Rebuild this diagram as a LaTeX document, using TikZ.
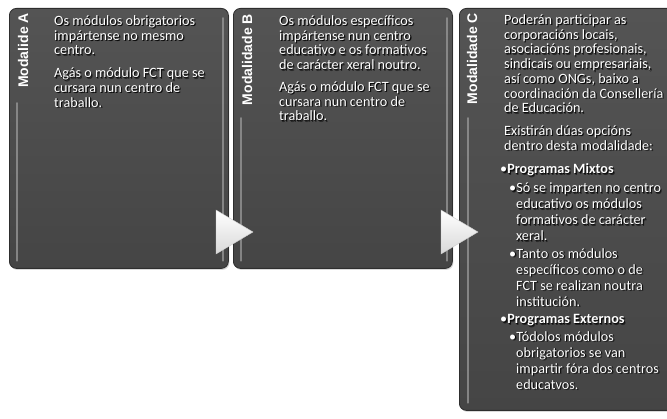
\documentclass[tikz,border=0pt]{standalone}
\usepackage{fontspec}
\setmainfont{Carlito}
\newfontfamily\tagfont{Liberation Sans}
\usetikzlibrary{shadows,calc}

\definecolor{panelTop}{HTML}{545454}
\definecolor{panelBot}{HTML}{454545}
\definecolor{panelEdge}{HTML}{2E2E2E}
\definecolor{shine}{HTML}{9A9A9A}

% body text with a soft dark shadow underneath
\newcommand{\shtext}[4][bodytext]{%
  \node[#1, text=black, text opacity=0.5, xshift=1.4pt, yshift=-1.4pt] (#2sf) at (#3) {#4};
  \node[#1, text=black, text opacity=0.8, xshift=0.8pt, yshift=-0.8pt] (#2sh) at (#3) {#4};
  \node[#1] (#2) at (#3) {#4};}

\begin{document}
\begin{tikzpicture}[x=1pt,y=-1pt,
  panel/.style={draw=panelEdge, line width=0.8pt, rounded corners=7pt,
    top color=panelTop, bottom color=panelBot, anchor=north west,
    minimum width=219pt, inner sep=0pt,
    drop shadow={opacity=0.3, shadow xshift=1pt, shadow yshift=-1.5pt}},
  tag/.style={font=\tagfont\bfseries\fontsize{14}{16}\selectfont,
    text=white, rotate=90, anchor=base east, inner sep=0pt},
  bodytext/.style={font=\fontsize{14.2}{14.7}\selectfont, text=white,
    align=left, anchor=north west, inner sep=0pt},
  listtext/.style={bodytext, font=\fontsize{14.2}{16}\selectfont},
  bevel/.style={draw=shine, line width=1.8pt, opacity=0.75, line cap=round},
  chevron/.style={top color=white, bottom color=gray!30, draw=gray!40, line width=0.4pt}]

\useasboundingbox (0,0) rectangle (667,419);
\clip (0,0) rectangle (667,419);

% the three panels
\node[panel, minimum height=260pt] (boxA) at (9,8) {};
\node[panel, minimum height=260pt] (boxB) at (233,8) {};
\node[panel, minimum width=226pt, minimum height=402pt] (boxC) at (459,8) {};

% bevel highlights on the panel edges
\draw[bevel] ($(boxA.north east)+(-6,10)$) -- ($(boxA.south east)+(-6,-8)$);
\draw[bevel] ($(boxB.north east)+(-6,10)$) -- ($(boxB.south east)+(-6,-8)$);
\draw[bevel] ($(boxA.north west)+(8,95)$) -- ($(boxA.south west)+(8,-8)$);
\draw[bevel] ($(boxB.north west)+(8,110)$) -- ($(boxB.south west)+(8,-8)$);
\draw[bevel] ($(boxC.north west)+(9,110)$) -- ($(boxC.south west)+(9,-8)$);

% rotated panel titles
\node[tag] (tagA) at ($(boxA.north west)+(19,5)$) {Modalide A};
\node[tag] (tagB) at ($(boxB.north west)+(19,6)$) {Modalidade B};
\node[tag] (tagC) at ($(boxC.north west)+(18,5)$) {Modalidade C};

% panel contents
\shtext{txtA}{$(boxA.north west)+(45,7.5)$}{Os módulos obrigatorios\\
impártense no mesmo\\
centro.\\[8pt]
Agás o módulo FCT que se\\
cursara nun centro de\\
traballo.}

\shtext{txtB}{$(boxB.north west)+(46,7.5)$}{Os módulos específicos\\
impártense nun centro\\
educativo e os formativos\\
de carácter xeral noutro.\\[7pt]
Agás o módulo FCT que se\\
cursara nun centro de\\
traballo.}

\shtext{txtC}{$(boxC.north west)+(45,6.5)$}{Poderán participar as\\
corporacións locais,\\
asociacións profesionais,\\
sindicais ou empresariais,\\
así como ONGs, baixo a\\
coordinación da Consellería\\
de Educación.\\[8pt]
Existirán dúas opcións\\
dentro desta modalidade:}

\shtext[listtext]{listC}{$(boxC.north west)+(41,155.5)$}{•\textbf{Programas Mixtos}\\[3pt]
\hspace*{9pt}•Só se imparten no centro\\
\hspace*{16pt}educativo os módulos\\
\hspace*{16pt}formativos de carácter\\
\hspace*{16pt}xeral.\\[1.5pt]
\hspace*{9pt}•Tanto os módulos\\
\hspace*{16pt}específicos como o de\\
\hspace*{16pt}FCT se realizan noutra\\
\hspace*{16pt}institución.\\[1.5pt]
•\textbf{Programas Externos}\\[1.5pt]
\hspace*{9pt}•Tódolos módulos\\
\hspace*{16pt}obrigatorios se van\\
\hspace*{16pt}impartir fóra dos centros\\
\hspace*{16pt}educatvos.}

% process arrows between panels
\draw[chevron] (216,210) -- (253,232) -- (216,254) -- cycle;
\draw[chevron] (441,210) -- (478,232) -- (441,254) -- cycle;
\end{tikzpicture}
\end{document}
